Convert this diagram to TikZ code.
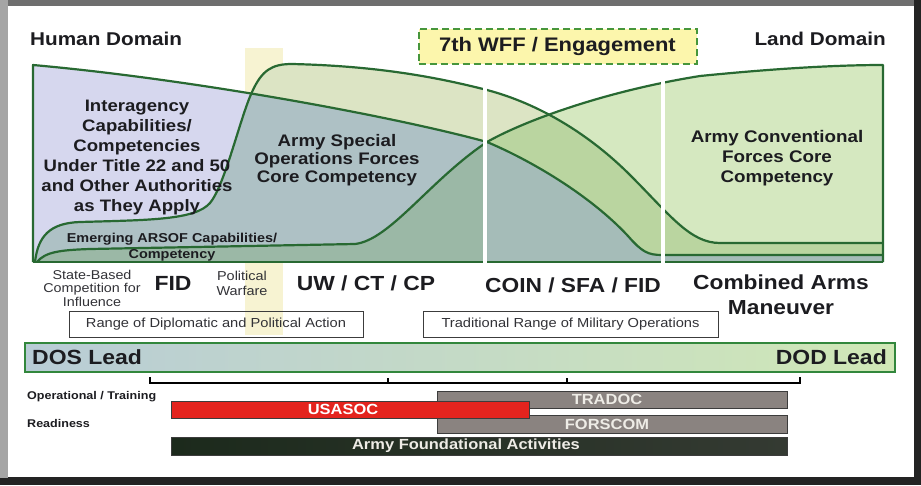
\documentclass[tikz,border=0pt]{standalone}
\usepackage{fontspec}
\setmainfont{Liberation Sans}[FakeStretch=1.12]
\newcommand\fsz[2]{\fontsize{#1}{#2}\selectfont}
\definecolor{frameDark}{RGB}{35,35,35}
\definecolor{frameLeft}{RGB}{165,165,165}
\definecolor{frameTop}{RGB}{110,110,110}
\definecolor{lineGreen}{RGB}{40,105,50}
\definecolor{yband}{RGB}{247,243,210}
\definecolor{convGreen}{RGB}{213,232,192}
\definecolor{tanGreen}{RGB}{220,228,196}
\definecolor{midGreen}{RGB}{186,213,160}
\definecolor{lavender}{RGB}{214,215,238}
\definecolor{blueGray}{RGB}{174,193,197}
\definecolor{tripleGray}{RGB}{165,188,184}
\definecolor{emergGreen}{RGB}{155,184,166}
\definecolor{txtDark}{RGB}{28,28,32}
\definecolor{txtGray}{RGB}{50,50,55}
\definecolor{wffFill}{RGB}{252,246,172}
\definecolor{wffLine}{RGB}{70,150,60}
\definecolor{dosLeft}{RGB}{184,204,214}
\definecolor{dosRight}{RGB}{208,232,182}
\definecolor{dosLine}{RGB}{50,135,60}
\definecolor{barGray}{RGB}{138,131,128}
\definecolor{barEdge}{RGB}{60,60,60}
\definecolor{usaRed}{RGB}{228,36,30}
\definecolor{foundL}{RGB}{28,42,28}
\definecolor{foundR}{RGB}{52,58,50}
\definecolor{barTxt}{RGB}{238,236,230}
\tikzset{
  cline/.style={draw=lineGreen, line width=2.2pt, line join=round},
  txt/.style={inner sep=0pt, text=txtDark, align=center},
  wffbox/.style={draw=wffLine, fill=wffFill, line width=2pt, dash pattern=on 7pt off 4pt, inner sep=0pt, text=txtDark},
  rangebox/.style={draw=barEdge, line width=1pt, inner sep=0pt, text=txtGray, font=\fsz{13.1}{15}},
  dosbar/.style={draw=dosLine, line width=2.5pt, left color=dosLeft, right color=dosRight, inner sep=0pt},
  barbox/.style={draw=barEdge, line width=1pt, inner sep=0pt},
  bartext/.style={inner sep=0pt, text=barTxt, font=\fsz{14.7}{16}\bfseries},
  bracketline/.style={draw=black, line width=1.2pt}
}
\def\Sone{(33,65) .. controls (200,80) and (400,118) .. (487,142) .. controls (530,160) and (590,195) .. (628,236) .. controls (642,252) and (648,255) .. (662,255) -- (883,255) -- (883,262) -- (33,262) -- cycle}
\def\Stwo{(35,262) .. controls (38,236) and (50,223) .. (80,222) .. controls (150,220) and (195,220) .. (210,203) .. controls (225,185) and (240,118) .. (252,92) .. controls (262,70) and (272,64) .. (292,64) .. controls (380,66) and (440,78) .. (487,90) .. controls (540,104) and (590,135) .. (630,175) .. controls (670,215) and (690,243) .. (720,243) -- (883,243) -- (883,262) -- cycle}
\def\Sthree{(487,142) .. controls (520,123) and (600,92) .. (700,76) .. controls (780,68) and (840,65) .. (883,65) -- (883,262) -- (487,262) -- cycle}
\def\Sfour{(37,262) .. controls (45,252) and (60,250) .. (90,249) -- (355,244) .. controls (390,240) and (430,180) .. (487,142) -- (487,262) -- cycle}
\begin{document}
\begin{tikzpicture}[x=1pt,y=-1pt]
\useasboundingbox (0,0) rectangle (921,485);
% screenshot frame
\fill[frameDark] (0,0) rectangle (921,485);
\fill[frameTop] (0,0) rectangle (914,6);
\fill[frameLeft] (0,0) rectangle (8,478);
\fill[white] (8,6) rectangle (914,477);
% political warfare band
\fill[yband] (245,48) rectangle (283,335);
% area fills
\fill[convGreen] \Sthree;
\fill[tanGreen] \Stwo;
\begin{scope}\clip \Stwo; \fill[midGreen] \Sthree; \end{scope}
\fill[lavender] \Sone;
\begin{scope}\clip \Sone; \fill[blueGray] \Stwo; \end{scope}
\begin{scope}\clip \Sone; \clip \Stwo; \fill[tripleGray] \Sthree; \end{scope}
\fill[emergGreen] \Sfour;
% outlines
\draw[cline] (33,262) -- (33,65) .. controls (200,80) and (400,118) .. (487,142) .. controls (530,160) and (590,195) .. (628,236) .. controls (642,252) and (648,255) .. (662,255) -- (883,255);
\draw[cline] (35,262) .. controls (38,236) and (50,223) .. (80,222) .. controls (150,220) and (195,220) .. (210,203) .. controls (225,185) and (240,118) .. (252,92) .. controls (262,70) and (272,64) .. (292,64) .. controls (380,66) and (440,78) .. (487,90) .. controls (540,104) and (590,135) .. (630,175) .. controls (670,215) and (690,243) .. (720,243) -- (883,243);
\draw[cline] (487,142) .. controls (520,123) and (600,92) .. (700,76) .. controls (780,68) and (840,65) .. (883,65) -- (883,262);
\draw[cline] (37,262) .. controls (45,252) and (60,250) .. (90,249) -- (355,244) .. controls (390,240) and (430,180) .. (487,142);
\draw[cline] (33,262) -- (883,262);
% white dividers
\draw[white, line width=3.5pt] (485,85) -- (485,264);
\draw[white, line width=3.5pt] (663,77) -- (663,264);
% headings
\node[txt, anchor=west, font=\fsz{18.5}{20}\bfseries] (human) at (30,38.5) {Human Domain};
\node[txt, anchor=east, font=\fsz{18.5}{20}\bfseries] (land) at (886,38.5) {Land Domain};
\node[wffbox, minimum width=278pt, minimum height=35pt, font=\fsz{19.6}{21}\bfseries] (wff) at (557.5,46.5) {7th WFF / Engagement};
% area labels
\node[txt, font=\fsz{16.6}{20}\bfseries] (inter) at (137,158) {Interagency\\Capabilities/\\Competencies\\Under Title 22 and 50\\and Other Authorities\\as They Apply};
\node[txt, font=\fsz{16.7}{18}\bfseries] (arsof) at (337,160) {Army Special\\Operations Forces\\Core Competency};
\node[txt, font=\fsz{16.8}{20}\bfseries] (conv) at (777,158) {Army Conventional\\Forces Core\\Competency};
\node[txt, font=\fsz{12.9}{15.5}\bfseries] (emerg) at (172,247) {Emerging ARSOF Capabilities/\\Competency};
% spectrum labels
\node[txt, text=txtGray, font=\fsz{12.8}{13.5}] (state) at (92,288) {State-Based\\Competition for\\Influence};
\node[txt, font=\fsz{20.5}{22}\bfseries] (fid) at (173,283) {FID};
\node[txt, text=txtGray, font=\fsz{12.9}{15}] (polw) at (242,283.5) {Political\\Warfare};
\node[txt, font=\fsz{20.4}{22}\bfseries] (uw) at (366,283) {UW / CT / CP};
\node[txt, font=\fsz{20.3}{22}\bfseries] (coin) at (573,285) {COIN / SFA / FID};
\node[txt, font=\fsz{20.3}{25}\bfseries] (cam) at (781,294.5) {Combined Arms\\Maneuver};
\node[rangebox, minimum width=294pt, minimum height=26pt] (rdip) at (216,324) {Range of Diplomatic and Political Action};
\node[rangebox, minimum width=295pt, minimum height=26pt] (rmil) at (570.5,324) {Traditional Range of Military Operations};
% lead bar
\node[dosbar, minimum width=870pt, minimum height=29pt] (dos) at (460,357.5) {};
\node[txt, anchor=west, font=\fsz{20.5}{22}\bfseries] (doslead) at (32,357.5) {DOS Lead};
\node[txt, anchor=east, font=\fsz{20.5}{22}\bfseries] (dodlead) at (887,357.5) {DOD Lead};
% bracket
\draw[bracketline] (150,377) -- (150,383) -- (800,383) -- (800,377);
\draw[bracketline] (388,378) -- (388,383);
\draw[bracketline] (567,378) -- (567,383);
% row labels
\node[txt, anchor=west, font=\fsz{11.2}{13}\bfseries] (optr) at (27,397) {Operational / Training};
\node[txt, anchor=west, font=\fsz{11.2}{13}\bfseries] (ready) at (27,423) {Readiness};
% bars
\node[barbox, fill=barGray, minimum width=350pt, minimum height=17pt] (tradoc) at (612,399.5) {};
\node[bartext] at ([xshift=-5pt]tradoc.center) {TRADOC};
\node[barbox, fill=barGray, minimum width=350pt, minimum height=18pt] (forscom) at (612,424) {};
\node[bartext] at ([xshift=-5pt]forscom.center) {FORSCOM};
\node[barbox, fill=usaRed, minimum width=358pt, minimum height=17pt] (usasoc) at (350,409.5) {};
\node[bartext, text=white] at ([xshift=-7pt]usasoc.center) {USASOC};
\node[barbox, left color=foundL, right color=foundR, minimum width=616pt, minimum height=18pt] (found) at (479,446) {};
\node[bartext] at ([xshift=-13pt]found.center) {Army Foundational Activities};
\end{tikzpicture}
\end{document}
